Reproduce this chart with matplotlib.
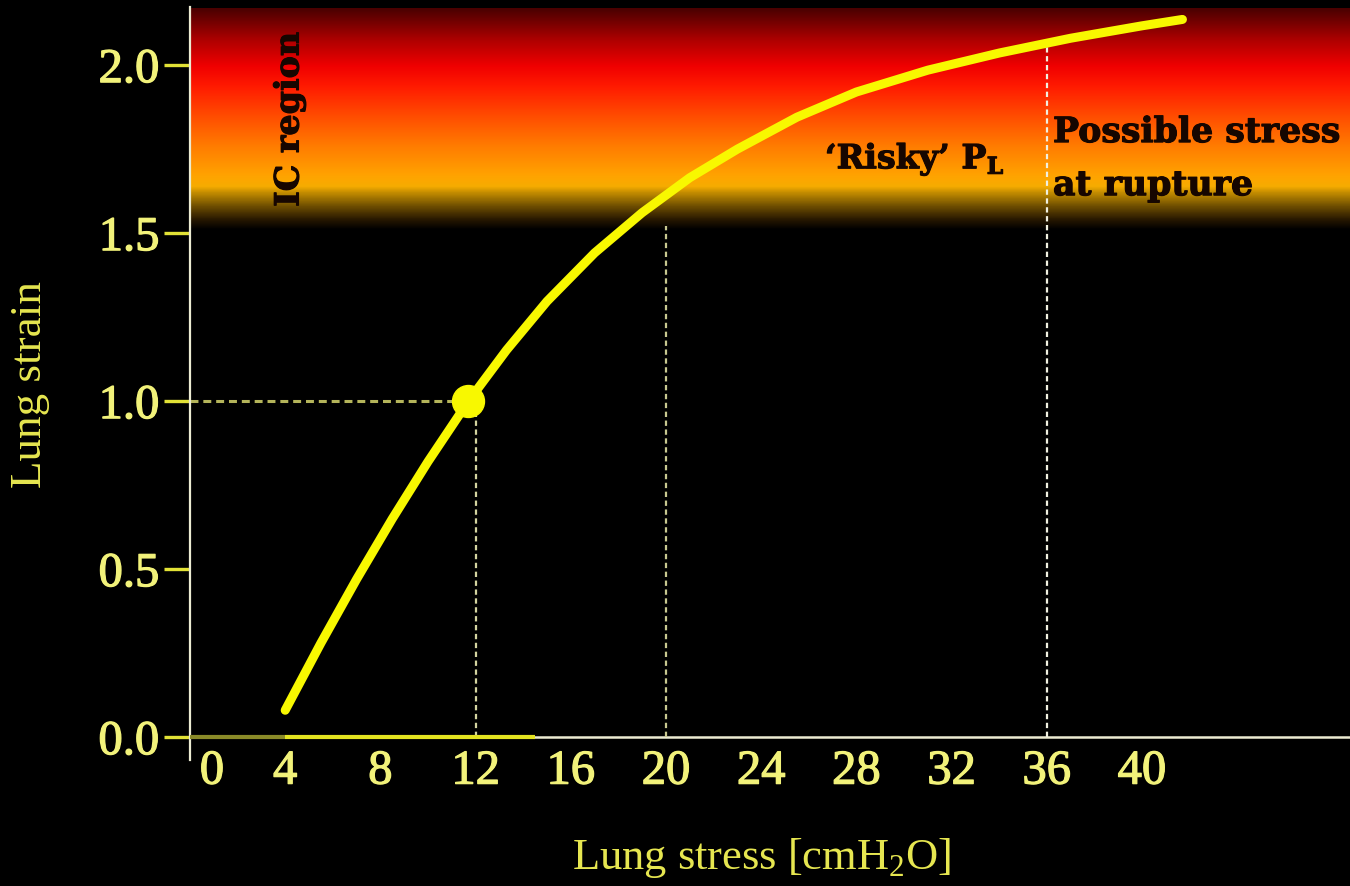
import matplotlib
matplotlib.use("Agg")
import matplotlib.pyplot as plt
import numpy as np
from matplotlib.colors import LinearSegmentedColormap
import matplotlib.transforms as mtransforms
import matplotlib.patheffects as pe

# ---------------- data ----------------
stress = [4.0, 5.5, 7.0, 8.5, 10.0, 11.7, 13.3, 15.0, 17.0, 19.0, 21.0, 23.0,
          25.5, 28.0, 31.0, 34.0, 37.0, 40.0, 41.7]
strain = [0.08, 0.28, 0.47, 0.65, 0.82, 1.0, 1.152, 1.297, 1.441, 1.561, 1.665, 1.75,
          1.845, 1.92, 1.985, 2.036, 2.08, 2.117, 2.136]

point_x = [11.7]
point_y = [1.0]

x_ticks = [0, 4, 8, 12, 16, 20, 24, 28, 32, 36, 40]
x_tick_labels = ["0", "4", "8", "12", "16", "20", "24", "28", "32", "36", "40"]
y_ticks = [0.0, 0.5, 1.0, 1.5, 2.0]
y_tick_labels = ["0.0", "0.5", "1.0", "1.5", "2.0"]

# guide lines: x position and height
v_guides_x = [12, 20, 36]
v_guides_top = [1.0, 1.52, 2.06]
h_guide_y = 1.0
h_guide_x_end = 11.7

# risky band (strain range) and its colour ramp (bottom -> top)
band_low, band_high = 1.51, 2.17
band_stops = [0.0, 0.045, 0.105, 0.164, 0.195, 0.24, 0.377, 0.514, 0.65, 0.74, 0.855, 1.0]
band_colors = ["#000000", "#281800", "#6e4e00", "#c08a00", "#f6ac00", "#ffa400",
               "#ff7c00", "#ff4c00", "#ff1a00", "#f00000", "#b00000", "#4a0000"]

# baseline highlight segments on x axis
base_olive = [0, 4]
base_yellow = [4, 14.5]

# ---------------- style ----------------
SERIF = ["Liberation Serif", "DejaVu Serif"]
BOLD_SERIF = ["DejaVu Serif"]
plt.rcParams["mathtext.fontset"] = "custom"
plt.rcParams["mathtext.rm"] = "Liberation Serif"
plt.rcParams["mathtext.bf"] = "DejaVu Serif:bold"

TICK_COL = "#f2f27a"
LABEL_COL = "#e6e650"
AXIS_COL = "#ecebd2"
CURVE_COL = "#f8f800"

W, H = 1350, 886
fig = plt.figure(figsize=(W / 100, H / 100), dpi=100, facecolor="black")
ax = fig.add_axes([190 / W, (H - 760) / H, 1160 / W, 753 / H])
ax.set_facecolor("black")
ax.set_xlim(0, 48.74)
ax.set_ylim(-0.068, 2.173)

# gradient band
cmap = LinearSegmentedColormap.from_list("band", list(zip(band_stops, band_colors)))
grad = np.linspace(0, 1, 400).reshape(-1, 1)
ax.imshow(grad, cmap=cmap, origin="lower", aspect="auto",
          extent=[0, 48.74, band_low, band_high], zorder=0, interpolation="bilinear")

# spines
for s in ["top", "right"]:
    ax.spines[s].set_visible(False)
ax.spines["left"].set_color(AXIS_COL)
ax.spines["left"].set_linewidth(1.6)
ax.spines["bottom"].set_color(AXIS_COL)
ax.spines["bottom"].set_linewidth(1.8)
ax.spines["bottom"].set_position(("data", 0))
ax.spines["left"].set_zorder(5)

# baseline highlight
ax.plot(base_olive, [0, 0], color="#8a8a28", lw=3.0, solid_capstyle="butt", zorder=6)
ax.plot(base_yellow, [0, 0], color="#e4e420", lw=3.0, solid_capstyle="butt", zorder=6)

# guide lines
ax.plot([0, h_guide_x_end], [h_guide_y, h_guide_y], color="#b4b45a", lw=2.2,
        linestyle=(0, (2.6, 1.6)), zorder=3)
guide_cols = ["#d4d4a0", "#c8c890", "#f0f0e0"]
for gx, gt, gc in zip(v_guides_x, v_guides_top, guide_cols):
    ax.plot([gx, gx], [0, gt], color=gc, lw=1.6, linestyle=(0, (2.4, 1.6)), zorder=3)

# curve
ax.plot(stress, strain, color=CURVE_COL, lw=6.5, solid_capstyle="round",
        solid_joinstyle="round", zorder=7)
ax.plot(point_x, point_y, "o", color=CURVE_COL, ms=23, zorder=8)

# ticks
thick_tick = [pe.withStroke(linewidth=0.9, foreground=TICK_COL)]
ax.set_xticks(x_ticks)
ax.set_xticklabels(x_tick_labels, fontsize=35, family=SERIF, color=TICK_COL)
ax.set_yticks(y_ticks)
ax.set_yticklabels(y_tick_labels, fontsize=35, family=SERIF, color=TICK_COL)
ax.tick_params(axis="x", length=0, pad=9)
ax.tick_params(axis="y", length=19, width=2.4, color="#e2e236", pad=3, direction="out")
for lab in ax.get_xticklabels() + ax.get_yticklabels():
    lab.set_path_effects(thick_tick)
xl = ax.get_xticklabels()
xl[0].set_transform(xl[0].get_transform() +
                    mtransforms.ScaledTranslation(22 / 100, 0, fig.dpi_scale_trans))

# axis titles
fig.text(762 / W, 1 - 858 / H, "Lung stress [cmH$_2$O]", fontsize=32, family=SERIF,
         color=LABEL_COL, ha="center", va="center")
fig.text(30 / W, 1 - 385 / H, "Lung strain", fontsize=32.5, family=SERIF,
         color=LABEL_COL, ha="center", va="center", rotation=90)

# band annotations
TXT = "#160600"
heavy = [pe.withStroke(linewidth=0.8, foreground=TXT)]
ax.text(4.16, 1.839, "IC region", rotation=90, fontsize=24, fontweight="bold",
        family=BOLD_SERIF, color=TXT, ha="center", va="center", zorder=9,
        path_effects=heavy)
ax.text(26.68, 1.693, "\u2018Risky\u2019 P$_\\mathbf{L}$", fontsize=24, fontweight="bold",
        family=BOLD_SERIF, color=TXT, ha="left", va="baseline", zorder=9,
        path_effects=heavy)
ax.text(36.26, 1.771, "Possible stress", fontsize=25, fontweight="bold",
        family=BOLD_SERIF, color=TXT, ha="left", va="baseline", zorder=9,
        path_effects=heavy)
ax.text(36.26, 1.613, "at rupture", fontsize=25, fontweight="bold",
        family=BOLD_SERIF, color=TXT, ha="left", va="baseline", zorder=9,
        path_effects=heavy)

fig.savefig("out.png", dpi=100, facecolor="black")
